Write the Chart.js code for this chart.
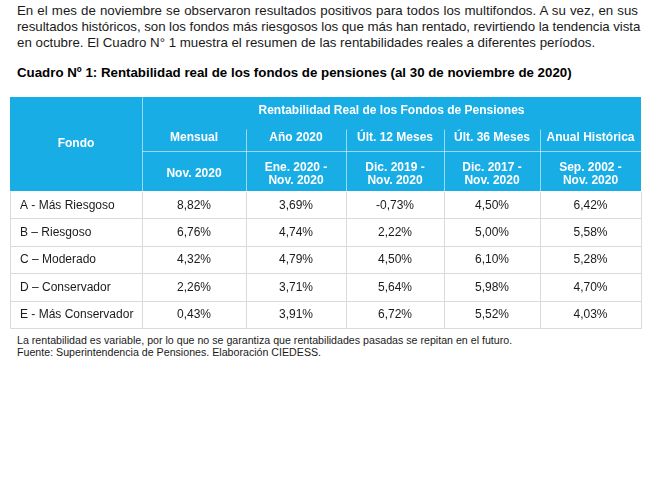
<!DOCTYPE html>
<html>
<head>
<meta charset="utf-8">
<script src="https://cdn.jsdelivr.net/npm/chart.js@4.4.1/dist/chart.umd.min.js"></script>
<style>
  body { margin: 0; background: #fff; font-family: "Liberation Sans", Arial, sans-serif; color: #1a1a1a; }
  .line { position: absolute; left: 17px; white-space: nowrap; }
  .par { font-size: 13.3px; line-height: 16px; width: 621px; }
  .jl { text-align: justify; text-align-last: justify; }
  .title { font-size: 13.3px; line-height: 16px; font-weight: bold; color: #000; }
  .note { font-size: 10.65px; line-height: 12px; }
  #wrap { position: absolute; left: 10px; top: 97px; width: 632px; height: 232px; }
</style>
</head>
<body>
<div class="line par jl" style="top:3px">En el mes de noviembre se observaron resultados positivos para todos los multifondos. A su vez, en sus</div>
<div class="line par jl" style="top:19px;letter-spacing:-0.06px">resultados históricos, son los fondos más riesgosos los que más han rentado, revirtiendo la tendencia vista</div>
<div class="line par" style="top:35px">en octubre. El Cuadro N° 1 muestra el resumen de las rentabilidades reales a diferentes períodos.</div>
<div class="line title" style="top:65px">Cuadro Nº 1: Rentabilidad real de los fondos de pensiones (al 30 de noviembre de 2020)</div>
<div id="wrap"><canvas id="tabla" width="632" height="232"></canvas></div>
<div class="line note" style="top:334px">La rentabilidad es variable, por lo que no se garantiza que rentabilidades pasadas se repitan en el futuro.</div>
<div class="line note" style="top:346px">Fuente: Superintendencia de Pensiones. Elaboración CIEDESS.</div>
<script>
// datos del cuadro
const fondos = ['A - Más Riesgoso', 'B – Riesgoso', 'C – Moderado', 'D – Conservador', 'E - Más Conservador'];
const periodos = ['Mensual', 'Año 2020', 'Últ. 12 Meses', 'Últ. 36 Meses', 'Anual Histórica'];
const rangos = [['Nov. 2020'], ['Ene. 2020 -', 'Nov. 2020'], ['Dic. 2019 -', 'Nov. 2020'], ['Dic. 2017 -', 'Nov. 2020'], ['Sep. 2002 -', 'Nov. 2020']];
const mensual = [8.82, 6.76, 4.32, 2.26, 0.43];
const anio2020 = [3.69, 4.74, 4.79, 3.71, 3.91];
const ult12 = [-0.73, 2.22, 4.50, 5.64, 6.72];
const ult36 = [4.50, 5.00, 6.10, 5.98, 5.52];
const historica = [6.42, 5.58, 5.28, 4.70, 4.03];
const series = [mensual, anio2020, ult12, ult36, historica];

// layout of the grid (scale units)
const colWidths = [132, 104, 100, 98, 96, 101];
const rowHeights = [28, 26, 40, 27.4, 27.4, 27.4, 27.4, 27.4];
const cum = arr => arr.reduce((a, w) => { a.push(a[a.length - 1] + w); return a; }, [0]);
const colEdges = cum(colWidths);
const rowEdges = cum(rowHeights);
const HEAD = 3;

const BLUE = '#19ade6';
const HEAD_LINE = 'rgba(255,255,255,0.55)';
const GRID = '#dadada';
const FONT = '"Liberation Sans", Arial, sans-serif';

const fmt = v => v.toFixed(2).replace('.', ',') + '%';
const mid = (e, i) => (e[i] + e[i + 1]) / 2;

const tablePlugin = {
  id: 'tabla',
  beforeDatasetsDraw(chart) {
    const { ctx, scales: { x, y } } = chart;
    const X = v => Math.round(x.getPixelForValue(v)) + 0.5;
    const Y = v => Math.round(y.getPixelForValue(v)) + 0.5;
    const nC = colEdges.length - 1, nR = rowEdges.length - 1;
    ctx.save();
    // header background
    ctx.fillStyle = BLUE;
    ctx.fillRect(x.getPixelForValue(0), y.getPixelForValue(0),
      x.getPixelForValue(colEdges[nC]) - x.getPixelForValue(0),
      y.getPixelForValue(rowEdges[HEAD]) - y.getPixelForValue(0));
    ctx.lineWidth = 1;
    // header lines
    ctx.strokeStyle = HEAD_LINE;
    ctx.beginPath();
    ctx.moveTo(X(colEdges[1]), Y(0)); ctx.lineTo(X(colEdges[1]), Y(rowEdges[HEAD]));
    ctx.moveTo(X(colEdges[1]), Y(rowEdges[2])); ctx.lineTo(X(colEdges[nC]), Y(rowEdges[2]));
    for (let c = 2; c < nC; c++) {
      ctx.moveTo(X(colEdges[c]), Y(rowEdges[1] + 4)); ctx.lineTo(X(colEdges[c]), Y(rowEdges[HEAD]));
    }
    ctx.stroke();
    // body grid
    ctx.strokeStyle = GRID;
    ctx.beginPath();
    for (let r = HEAD + 1; r <= nR; r++) {
      ctx.moveTo(X(0), Y(rowEdges[r])); ctx.lineTo(X(colEdges[nC]), Y(rowEdges[r]));
    }
    for (let c = 0; c <= nC; c++) {
      ctx.moveTo(X(colEdges[c]), Y(rowEdges[HEAD])); ctx.lineTo(X(colEdges[c]), Y(rowEdges[nR]));
    }
    ctx.stroke();
    ctx.restore();
  },
  afterDatasetsDraw(chart) {
    const { ctx, scales: { x, y } } = chart;
    ctx.save();
    ctx.textBaseline = 'middle';
    ctx.textAlign = 'center';
    // header texts
    ctx.fillStyle = '#fff';
    ctx.font = 'bold 12px ' + FONT;
    ctx.fillText('Fondo', x.getPixelForValue(mid(colEdges, 0)), y.getPixelForValue(rowEdges[HEAD] / 2));
    ctx.fillText('Rentabilidad Real de los Fondos de Pensiones',
      x.getPixelForValue((colEdges[1] + colEdges[colEdges.length - 1]) / 2), y.getPixelForValue(mid(rowEdges, 0) - 0.5));
    periodos.forEach((p, i) => {
      const cx = x.getPixelForValue(mid(colEdges, i + 1));
      ctx.fillText(p, cx, y.getPixelForValue(mid(rowEdges, 1)));
      const lines = rangos[i];
      const cy = y.getPixelForValue(mid(rowEdges, 2) + 3);
      lines.forEach((t, k) => ctx.fillText(t, cx, cy + (k - (lines.length - 1) / 2) * 13.5));
    });
    // body texts
    ctx.fillStyle = '#1a1a1a';
    ctx.font = '12px ' + FONT;
    ctx.textAlign = 'left';
    fondos.forEach((f, r) => {
      ctx.fillText(f, x.getPixelForValue(colEdges[0] + 10), y.getPixelForValue(mid(rowEdges, HEAD + r) + 0.5));
    });
    ctx.textAlign = 'center';
    chart.data.datasets.forEach((ds, di) => {
      chart.getDatasetMeta(di).data.forEach((pt, i) => {
        ctx.fillText(fmt(series[di][i]), pt.x, pt.y);
      });
    });
    ctx.restore();
  }
};

new Chart(document.getElementById('tabla'), {
  type: 'scatter',
  data: {
    datasets: series.map((vals, c) => ({
      label: periodos[c],
      data: vals.map((v, r) => ({ x: mid(colEdges, c + 1), y: mid(rowEdges, HEAD + r) + 0.5 })),
      pointRadius: 0,
      pointHoverRadius: 0
    }))
  },
  options: {
    responsive: false,
    animation: false,
    layout: { padding: { right: 1, bottom: 1 } },
    plugins: { legend: { display: false }, tooltip: { enabled: false } },
    scales: {
      x: { type: 'linear', display: false, min: 0, max: colEdges[colEdges.length - 1] },
      y: { type: 'linear', display: false, min: 0, max: rowEdges[rowEdges.length - 1], reverse: true }
    }
  },
  plugins: [tablePlugin]
});
</script>
</body>
</html>
